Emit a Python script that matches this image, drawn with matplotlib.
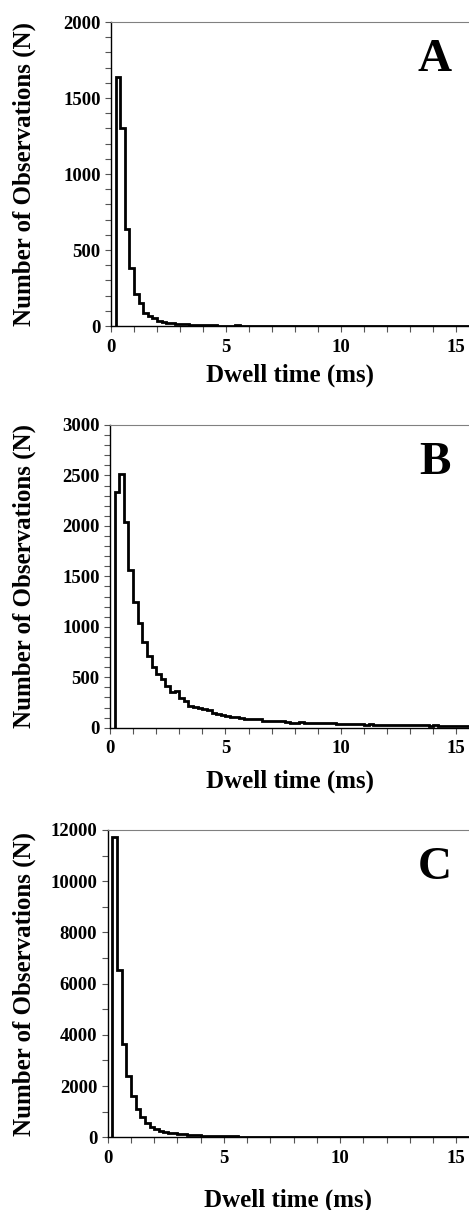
import numpy as np
import matplotlib
matplotlib.use("Agg")
import matplotlib.pyplot as plt
from matplotlib.ticker import MultipleLocator

plt.rcParams['font.family'] = ['Liberation Serif', 'DejaVu Serif']
plt.rcParams['font.weight'] = 'bold'

# 0.2 ms bins, first bin starts at 0.2 ms
bin_start = 0.2
bin_width = 0.2

counts_a = [1636, 1305, 636, 384, 211, 154, 88, 68, 55, 35,
            28, 22, 18, 16, 14, 10, 8, 7, 6, 5,
            4, 4, 3, 3, 3, 3, 4, 2, 2, 3,
            3, 2, 2, 2, 2, 1, 2, 3, 1, 1,
            1, 1, 1, 1, 0, 1, 0, 0, 1, 0,
            0, 0, 0, 0, 0, 0, 0, 0, 0, 0,
            0, 0, 0, 0, 0, 0, 0, 0, 0, 0,
            0, 0, 0, 0, 0, 0, 0]

counts_b = [2340, 2510, 2035, 1565, 1250, 1040, 850, 710, 600, 530,
            485, 415, 355, 365, 290, 262, 220, 202, 198, 182,
            180, 145, 140, 125, 118, 110, 102, 95, 88, 86,
            90, 84, 68, 66, 65, 63, 62, 60, 45, 50,
            52, 48, 50, 46, 47, 44, 42, 43, 40, 41,
            38, 34, 33, 35, 31, 32, 30, 30, 28, 27,
            28, 25, 27, 24, 23, 25, 22, 22, 21, 23,
            20, 21, 19, 20, 18, 19, 17]

counts_c = [11720, 6520, 3645, 2400, 1605, 1095, 780, 575, 420, 320,
            260, 205, 170, 150, 135, 120, 105, 95, 85, 70,
            60, 55, 50, 45, 40, 38, 35, 30, 28, 25,
            22, 20, 18, 16, 14, 12, 10, 9, 8, 7,
            6, 6, 5, 5, 4, 4, 4, 3, 3, 3,
            2, 2, 2, 2, 2, 1, 1, 1, 1, 1,
            1, 1, 1, 1, 1, 1, 1, 1, 1, 1,
            1, 1, 1, 1, 1, 1, 1]

panel_letters = ['A', 'B', 'C']
y_max = [2000, 3000, 12000]
y_major = [500, 500, 2000]
y_minor = [100, 100, 1000]

# axes boxes in pixels: left, top, bottom
boxes = [(111, 22, 326), (110, 425, 727.7), (107.7, 830, 1137.3)]
xlabel_pads = [6, 9, 16]

W, H = 469, 1210
fig = plt.figure(figsize=(W / 100, H / 100), dpi=100)

all_counts = [counts_a, counts_b, counts_c]
for k in range(3):
    left, top, bottom = boxes[k]
    ax = fig.add_axes([left / W, 1 - bottom / H, 1 - left / W, (bottom - top) / H])
    vals = np.array(all_counts[k], dtype=float)
    edges = bin_start + bin_width * np.arange(len(vals) + 1)
    ax.stairs(vals, edges, baseline=0, color='black', lw=2.0)

    ax.set_xlim(0, 15.55)
    ax.set_ylim(0, y_max[k])
    ax.xaxis.set_major_locator(MultipleLocator(5))
    ax.xaxis.set_minor_locator(MultipleLocator(1))
    ax.yaxis.set_major_locator(MultipleLocator(y_major[k]))
    ax.yaxis.set_minor_locator(MultipleLocator(y_minor[k]))
    ax.tick_params(which='both', direction='out', length=4, width=0.8,
                   color='#555555', labelsize=13.5)
    ax.tick_params(axis='x', which='major', pad=5)

    ax.spines['right'].set_visible(False)
    ax.spines['top'].set_color('#808080')
    ax.spines['top'].set_linewidth(0.8)
    ax.spines['left'].set_linewidth(1.0)
    ax.spines['bottom'].set_linewidth(1.0)

    ax.set_xlabel('Dwell time (ms)', fontsize=18, fontweight='bold',
                  labelpad=xlabel_pads[k])
    ax.set_ylabel('Number of Observations (N)', fontsize=18, fontweight='bold')
    ax.yaxis.set_label_coords(-(left - 36) / (W - left), 0.5)

    ax.text(0.905, 0.875, panel_letters[k], transform=ax.transAxes,
            fontsize=34, fontweight='bold', ha='center', va='center')

fig.savefig('out.png', dpi=100)
